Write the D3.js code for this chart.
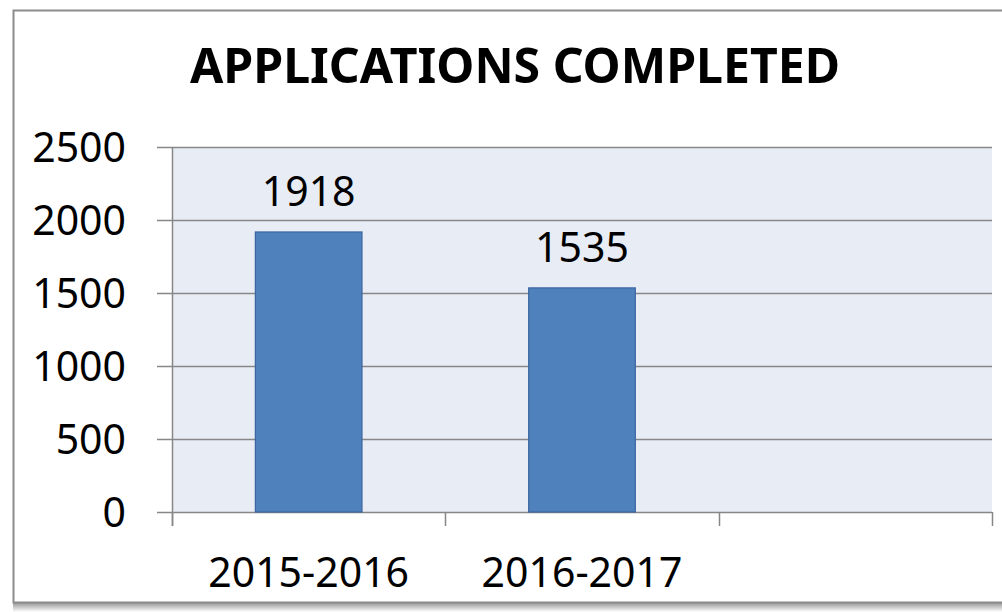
<!DOCTYPE html>
<html><head><meta charset="utf-8">
<script src="https://cdn.jsdelivr.net/npm/d3@7"></script>
<style>html,body{margin:0;padding:0;background:#fff;}svg{display:block;}</style>
</head><body>
<svg id="c" width="1002" height="612"></svg>
<script>
const title = "APPLICATIONS COMPLETED";
const categories = ["2015-2016", "2016-2017", ""];
const values = [1918, 1535, null];
const yTicks = [0, 500, 1000, 1500, 2000, 2500];

const svg = d3.select("#c");
const font = "'Noto Sans', sans-serif";

// frame with shadow
const defs = svg.append("defs");
const g1 = defs.append("linearGradient").attr("id","shB").attr("x1",0).attr("y1",0).attr("x2",0).attr("y2",1);
g1.append("stop").attr("offset","0%").attr("stop-color","#9a9a9a");
g1.append("stop").attr("offset","100%").attr("stop-color","#ffffff");
svg.append("rect").attr("x",13).attr("y",603).attr("width",1000).attr("height",9).attr("fill","url(#shB)");
svg.append("rect").attr("x",13.5).attr("y",10.5).attr("width",1000).attr("height",592)
  .attr("fill","#fff").attr("stroke","#8c8c8c").attr("stroke-width",2);

const L = 172, R = 992, T = 147, B = 512;
const x = d3.scaleBand().domain(categories.map((d,i)=>i)).range([L,R]).paddingInner(0.61).paddingOuter(0.305);
const xb = d3.scaleBand().domain(categories.map((d,i)=>i)).range([L,R]);
const y = d3.scaleLinear().domain([0,2500]).range([B,T]);

svg.append("rect").attr("x",L).attr("y",T).attr("width",R-L).attr("height",B-T).attr("fill","#e8ecf4");

// gridlines
svg.append("g").selectAll("line").data(yTicks).join("line")
  .attr("x1",157).attr("x2",R).attr("y1",d=>Math.round(y(d))+0.5).attr("y2",d=>Math.round(y(d))+0.5)
  .attr("stroke","#878787").attr("stroke-width",1.5);

// y axis line
svg.append("line").attr("x1",L+0.5).attr("x2",L+0.5).attr("y1",T).attr("y2",B+14).attr("stroke","#878787").attr("stroke-width",1.5);
// x ticks
const xt = categories.map((d,i)=>xb(i)+xb.bandwidth()).concat([L]);
svg.append("g").selectAll("line").data(xt).join("line")
  .attr("x1",d=>Math.round(d)+0.5).attr("x2",d=>Math.round(d)+0.5).attr("y1",B).attr("y2",B+14)
  .attr("stroke","#878787").attr("stroke-width",1.5);

// y labels
svg.append("g").selectAll("text").data(yTicks).join("text")
  .attr("x",126).attr("y",d=>y(d)).attr("dy","0.36em").attr("text-anchor","end")
  .attr("font-family",font).attr("font-size",41).attr("fill","#000").text(d=>d);

// bars
const vals = values.map((v,i)=>({v,i})).filter(d=>d.v!=null);
svg.append("g").selectAll("rect").data(vals).join("rect")
  .attr("x",d=>x(d.i)).attr("y",d=>y(d.v)).attr("width",x.bandwidth()).attr("height",d=>B-y(d.v))
  .attr("fill","#4f81bd").attr("stroke","#3b64a0").attr("stroke-width",1.2);

// value labels
svg.append("g").selectAll("text").data(vals).join("text")
  .attr("x",d=>x(d.i)+x.bandwidth()/2).attr("y",d=>y(d.v)-26).attr("text-anchor","middle")
  .attr("font-family",font).attr("font-size",41).attr("fill","#000").text(d=>d.v);

// x labels
svg.append("g").selectAll("text").data(categories.map((c,i)=>({c,i}))).join("text")
  .attr("x",d=>xb(d.i)+xb.bandwidth()/2).attr("y",587).attr("text-anchor","middle")
  .attr("font-family",font).attr("font-size",41).attr("fill","#000").text(d=>d.c);

// title
const t = svg.append("text").attr("x",515).attr("y",83).attr("text-anchor","middle")
  .attr("font-family",font).attr("font-weight","bold").attr("font-size",49).attr("fill","#000").text(title);
const w = t.node().getComputedTextLength();
if (w > 650) t.attr("textLength",650).attr("lengthAdjust","spacingAndGlyphs");
</script>
</body></html>
